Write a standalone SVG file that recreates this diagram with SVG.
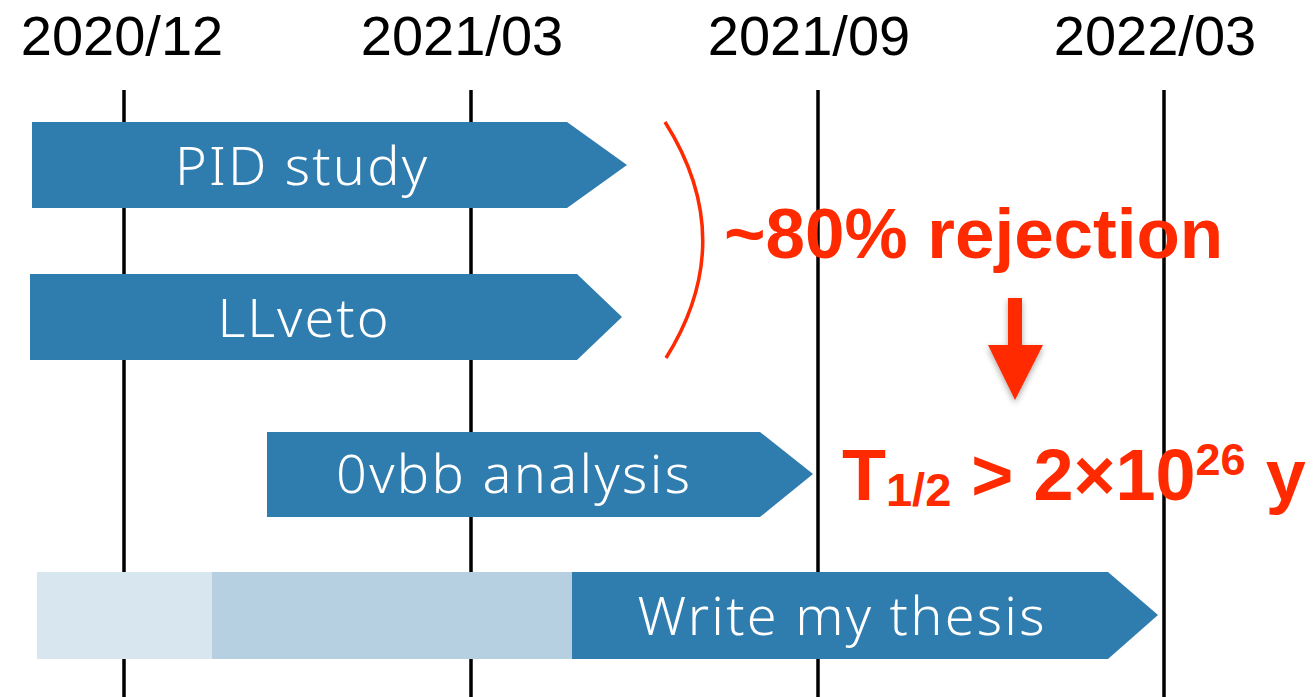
<svg xmlns="http://www.w3.org/2000/svg" width="1316" height="697" viewBox="0 0 1316 697">
<defs>
<style>
.date{font-family:"Liberation Sans",Arial,sans-serif;font-size:56px;fill:#000;text-anchor:middle}
.grid{stroke:#000;stroke-width:3.5}
.bar{fill:#2f7cae}
.lbl{font-family:"Noto Sans","Open Sans",sans-serif;font-weight:300;font-size:54px;fill:#fff;text-anchor:middle}
.red{font-family:"Liberation Sans",Arial,sans-serif;font-weight:bold;fill:#ff2a00}
</style>
<filter id="sh" x="-30%" y="-30%" width="160%" height="160%">
<feDropShadow dx="0" dy="3" stdDeviation="3" flood-color="#000" flood-opacity="0.35"/>
</filter>
</defs>
<g id="axis">
<text class="date" x="122" y="55">2020/12</text>
<text class="date" x="462" y="55">2021/03</text>
<text class="date" x="809" y="55">2021/09</text>
<text class="date" x="1155" y="55">2022/03</text>
<line class="grid" x1="124" y1="90" x2="124" y2="697"/>
<line class="grid" x1="471" y1="90" x2="471" y2="697"/>
<line class="grid" x1="818" y1="90" x2="818" y2="697"/>
<line class="grid" x1="1164" y1="90" x2="1164" y2="697"/>
</g>
<g id="pid">
<polygon class="bar" points="32,122 567,122 627,165 567,208 32,208"/>
<text class="lbl" x="301" y="185" textLength="252">PID study</text>
</g>
<g id="llveto">
<polygon class="bar" points="30,274 577,274 622,317 577,360 30,360"/>
<text class="lbl" x="303" y="337" textLength="171">LLveto</text>
</g>
<g id="ovbb">
<polygon class="bar" points="267,432 760,432 813,474 760,517 267,517"/>
<text class="lbl" x="513" y="493" textLength="354">0vbb analysis</text>
</g>
<g id="thesis">
<rect x="37" y="572" width="176" height="87" fill="#d8e6ef"/>
<rect x="212" y="572" width="361" height="87" fill="#b6d0e2"/>
<polygon class="bar" points="572,572 1108,572 1158,615 1108,659 572,659"/>
<text class="lbl" x="841" y="635" textLength="407">Write my thesis</text>
</g>
<g id="connectors">
<path d="M665,122 Q740,240 666,358" fill="none" stroke="#ff2a00" stroke-width="3.5"/>
<polygon points="1008,298 1022,298 1022,345 1043,345 1015,400 988,345 1008,345" fill="#ff2a00" filter="url(#sh)"/>
</g>
<g id="notes">
<text class="red" x="724" y="258" font-size="71">~80% rejection</text>
<text class="red" x="842" y="500" font-size="72">T<tspan font-size="47" dy="6">1/2</tspan><tspan dy="-6"> &gt; 2×10</tspan><tspan font-size="45" dy="-25">26</tspan><tspan dy="25"> y</tspan></text>
</g>
</svg>
